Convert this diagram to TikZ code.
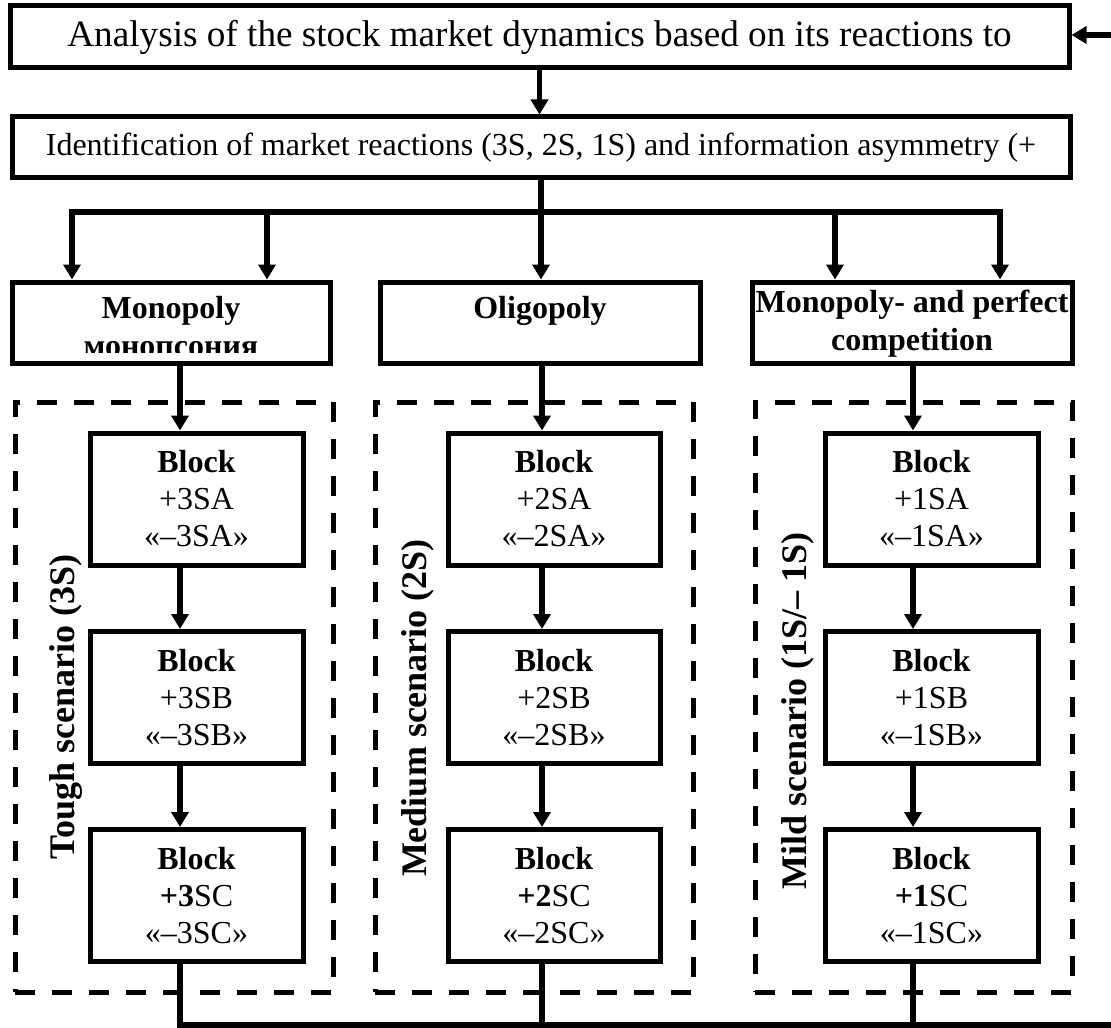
\documentclass[tikz,border=0pt]{standalone}
\usepackage{fontspec}
\setmainfont{Liberation Serif}
\usetikzlibrary{arrows.meta}
\begin{document}
\begin{tikzpicture}[x=0.5pt,y=-0.5pt,
 box/.style={draw,line width=2.5pt,inner sep=0pt},
 conn/.style={line width=2.8pt},
 arr/.style={conn,-{Triangle[length=7.5pt,width=8.5pt]}},
 dbox/.style={draw,line width=2.5pt,dash pattern=on 10pt off 8.5pt,inner sep=0pt,minimum height=295pt},
 blk/.style={box,minimum height=66pt,align=center,font=\fontsize{16}{18.5}\selectfont},
 hd/.style={font=\fontsize{16}{19}\selectfont\bfseries,inner sep=0pt},
 scen/.style={rotate=90,font=\fontsize{18}{21}\selectfont\bfseries,inner sep=0pt}]
\useasboundingbox (0,0) rectangle (1111,1027);

% top boxes
\node[box,minimum width=529.5pt,minimum height=31pt,font=\fontsize{18.6}{21}\selectfont] (top) at (539.5,37) {Analysis of the stock market dynamics based on its reactions to};
\node[box,minimum width=529pt,minimum height=30.5pt,font=\fontsize{16}{19}\selectfont] (ident) at (541,147.5) {Identification of market reactions (3S, 2S, 1S) and information asymmetry (+};

% market structure boxes
\node[box,minimum width=159pt,minimum height=40.5pt] (mono) at (171,322.5) {};
\node[box,minimum width=160pt,minimum height=40.5pt] (oligo) at (540,322.5) {};
\node[box,minimum width=160pt,minimum height=40.5pt] (comp) at (912,322.5) {};
\node[hd,anchor=base] (monoT) at (171,318) {Monopoly};
\begin{scope}
\clip (14,284) rectangle (328,352);
\node[hd,anchor=base] (monoR) at (171,356) {монопсония};
\end{scope}
\node[hd,anchor=base] (oligoT) at (540,318) {Oligopoly};
\node[hd,anchor=base] (compA) at (912,312) {Monopoly- and perfect};
\node[hd,anchor=base] (compB) at (912,350) {competition};

% dashed scenario frames
\node[dbox,minimum width=159pt] (d1) at (174,697) {};
\node[dbox,minimum width=159pt] (d2) at (534,697) {};
\node[dbox,minimum width=158.5pt] (d3) at (913.5,697) {};

% blocks
\node[blk,minimum width=106.5pt] (a1) at (196.5,499) {\textbf{Block}\\+3SA\\«–3SA»};
\node[blk,minimum width=106.5pt] (b1) at (196.5,697.5) {\textbf{Block}\\+3SB\\«–3SB»};
\node[blk,minimum width=106.5pt] (c1) at (196.5,895.5) {\textbf{Block}\\\textbf{+3}SC\\«–3SC»};
\node[blk,minimum width=106pt] (a2) at (554,499) {\textbf{Block}\\+2SA\\«–2SA»};
\node[blk,minimum width=106pt] (b2) at (554,697.5) {\textbf{Block}\\+2SB\\«–2SB»};
\node[blk,minimum width=106pt] (c2) at (554,895.5) {\textbf{Block}\\\textbf{+2}SC\\«–2SC»};
\node[blk,minimum width=106.5pt] (a3) at (931.5,499) {\textbf{Block}\\+1SA\\«–1SA»};
\node[blk,minimum width=106.5pt] (b3) at (931.5,697.5) {\textbf{Block}\\+1SB\\«–1SB»};
\node[blk,minimum width=106.5pt] (c3) at (931.5,895.5) {\textbf{Block}\\\textbf{+1}SC\\«–1SC»};

% scenario labels
\node[scen] (s1) at (66,707) {Tough scenario (3S)};
\node[scen] (s2) at (418,708) {Medium scenario (2S)};
\node[scen] (s3) at (798,711) {Mild scenario (1S/– 1S)};

% connectors
\coordinate (x1) at (180,0);
\coordinate (x2) at (542,0);
\coordinate (x3) at (913,0);
\coordinate (hl) at (72,212);
\coordinate (hl2) at (267,212);
\coordinate (hr2) at (835,212);
\coordinate (hr) at (1000,212);
\coordinate (bl) at (180,1025);
\coordinate (bm) at (542,1025);
\coordinate (bn) at (913,1025);
\coordinate (br) at (1111,1025);
\coordinate (fb) at (1111,35);

\draw[arr] (fb) -- (fb -| top.east);
\draw[arr] (top.south) -- (top.south |- ident.north);
\draw[arr] (ident.south) -- (ident.south |- oligo.north);
\draw[arr] (hr) -- (hl) -- (hl |- mono.north);
\draw[arr] (hl) -- (hr) -- (hr |- comp.north);
\draw[arr] (hl2) -- (hl2 |- mono.north);
\draw[arr] (hr2) -- (hr2 |- comp.north);

\draw[arr] (mono.south -| x1) -- (a1.north -| x1);
\draw[arr] (a1.south -| x1) -- (b1.north -| x1);
\draw[arr] (b1.south -| x1) -- (c1.north -| x1);
\draw[arr] (oligo.south -| x2) -- (a2.north -| x2);
\draw[arr] (a2.south -| x2) -- (b2.north -| x2);
\draw[arr] (b2.south -| x2) -- (c2.north -| x2);
\draw[arr] (comp.south -| x3) -- (a3.north -| x3);
\draw[arr] (a3.south -| x3) -- (b3.north -| x3);
\draw[arr] (b3.south -| x3) -- (c3.north -| x3);

\draw[conn] (c1.south -| x1) -- (bl) -- (br);
\draw[conn] (c2.south -| x2) -- (bm);
\draw[conn] (c3.south -| x3) -- (bn);
\end{tikzpicture}
\end{document}
